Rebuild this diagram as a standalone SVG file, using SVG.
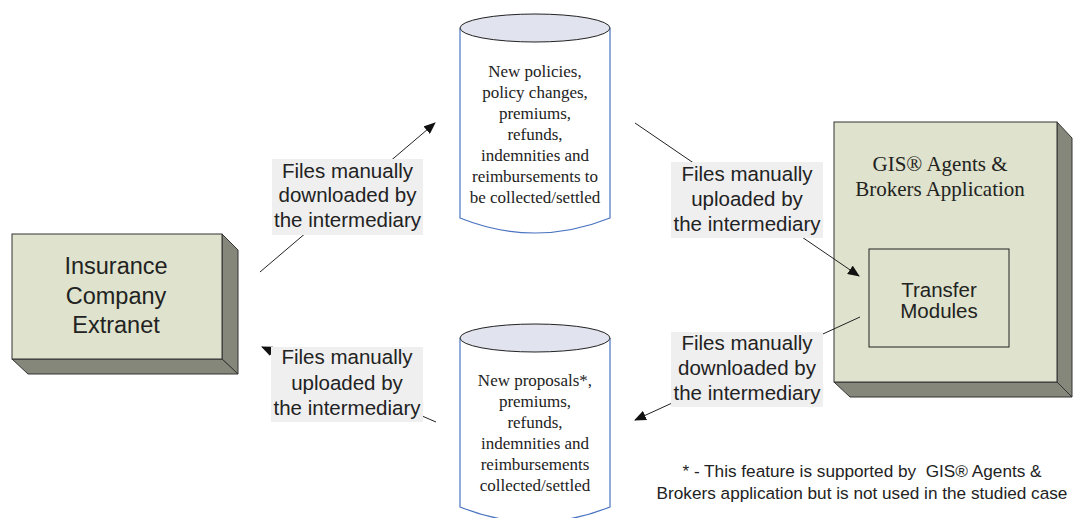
<svg xmlns="http://www.w3.org/2000/svg" width="1074" height="518" viewBox="0 0 1074 518">
<defs>
<marker id="ah" markerWidth="12" markerHeight="10" refX="11" refY="5" orient="auto" markerUnits="userSpaceOnUse">
<path d="M0,0 L12,5 L0,10 Z" fill="#111"/>
</marker>
<style>
.front{fill:#dfe2cc;stroke:#333;stroke-width:1}
.side{fill:#85877a;stroke:#333;stroke-width:1}
.sans{font-family:"Liberation Sans",Arial,sans-serif;fill:#222;text-anchor:middle}
.serif{font-family:"Liberation Serif","Times New Roman",serif;fill:#222;text-anchor:middle}
.body{fill:#fff;stroke:#4a74c0;stroke-width:1.2}
.top{fill:#e1e4ee;stroke:#222;stroke-width:1}
.conn{stroke:#222;stroke-width:1;fill:none}
.lbl{fill:#efefef}
</style>
</defs>
<rect width="1074" height="518" fill="#fff"/>

<g id="node-extranet">
<polygon class="side" points="222,234 238,250 238,374 222,359"/>
<polygon class="side" points="12,359 222,359 238,374 28,374"/>
<rect class="front" x="12" y="234" width="210" height="125"/>
<text class="sans" font-size="23.5" x="116" y="274">Insurance</text>
<text class="sans" font-size="23.5" x="116" y="304">Company</text>
<text class="sans" font-size="23.5" x="116" y="333">Extranet</text>
</g>

<g id="node-gis">
<polygon class="side" points="1057,122 1072,138 1072,397 1057,382"/>
<polygon class="side" points="834,382 1057,382 1072,397 850,397"/>
<rect class="front" x="834" y="122" width="223" height="260"/>
<text class="serif" font-size="21" x="940" y="171">GIS® Agents &amp;</text>
<text class="serif" font-size="21" x="940" y="196">Brokers Application</text>
</g>

<g id="node-transfer">
<rect x="869" y="249" width="140" height="98" fill="#dfe2cc" stroke="#222" stroke-width="1"/>
<text class="sans" font-size="20.5" x="939" y="297">Transfer</text>
<text class="sans" font-size="20.5" x="939" y="318">Modules</text>
</g>

<g id="node-db-top">
<path class="body" d="M460,28 L460,218 Q535,248 610,218 L610,28"/>
<ellipse class="top" cx="535" cy="28" rx="75" ry="14"/>
<text class="serif" font-size="17" x="535" y="77">New policies,</text>
<text class="serif" font-size="17" x="535" y="98">policy changes,</text>
<text class="serif" font-size="17" x="535" y="119">premiums,</text>
<text class="serif" font-size="17" x="535" y="140">refunds,</text>
<text class="serif" font-size="17" x="535" y="161">indemnities and</text>
<text class="serif" font-size="17" x="535" y="182">reimbursements to</text>
<text class="serif" font-size="17" x="535" y="203">be collected/settled</text>
</g>

<g id="node-db-bottom">
<path class="body" d="M460,338 L460,507 Q535,537 610,507 L610,338"/>
<ellipse class="top" cx="535" cy="338" rx="75" ry="14"/>
<text class="serif" font-size="17" x="535" y="386">New proposals*,</text>
<text class="serif" font-size="17" x="535" y="407">premiums,</text>
<text class="serif" font-size="17" x="535" y="428">refunds,</text>
<text class="serif" font-size="17" x="535" y="449">indemnities and</text>
<text class="serif" font-size="17" x="535" y="470">reimbursements</text>
<text class="serif" font-size="17" x="535" y="491">collected/settled</text>
</g>

<g id="connectors">
<line class="conn" x1="260" y1="272" x2="435" y2="123" marker-end="url(#ah)"/>
<line class="conn" x1="436" y1="422" x2="262" y2="347" marker-end="url(#ah)"/>
<line class="conn" x1="635" y1="123" x2="859" y2="276" marker-end="url(#ah)"/>
<line class="conn" x1="860" y1="317" x2="635" y2="420" marker-end="url(#ah)"/>
</g>

<g id="labels">
<g id="label-1">
<rect class="lbl" x="272" y="159" width="151" height="76"/>
<text class="sans" font-size="20.5" x="347.5" y="178">Files manually</text>
<text class="sans" font-size="20.5" x="347.5" y="202">downloaded by</text>
<text class="sans" font-size="20.5" x="347.5" y="227">the intermediary</text>
</g>
<g id="label-2">
<rect class="lbl" x="271" y="347" width="152" height="75"/>
<text class="sans" font-size="20.5" x="347" y="364">Files manually</text>
<text class="sans" font-size="20.5" x="347" y="390">uploaded by</text>
<text class="sans" font-size="20.5" x="347" y="415">the intermediary</text>
</g>
<g id="label-3">
<rect class="lbl" x="671" y="162" width="152" height="76"/>
<text class="sans" font-size="20.5" x="747" y="181">Files manually</text>
<text class="sans" font-size="20.5" x="747" y="206">uploaded by</text>
<text class="sans" font-size="20.5" x="747" y="231">the intermediary</text>
</g>
<g id="label-4">
<rect class="lbl" x="671" y="332" width="152" height="75"/>
<text class="sans" font-size="20.5" x="747" y="350">Files manually</text>
<text class="sans" font-size="20.5" x="747" y="375">downloaded by</text>
<text class="sans" font-size="20.5" x="747" y="400">the intermediary</text>
</g>
</g>

<g id="footnote">
<text class="sans" font-size="17.2" x="862" y="477" xml:space="preserve">* - This feature is supported by  GIS® Agents &amp;</text>
<text class="sans" font-size="17.2" x="862" y="499">Brokers application but is not used in the studied case</text>
</g>
</svg>
